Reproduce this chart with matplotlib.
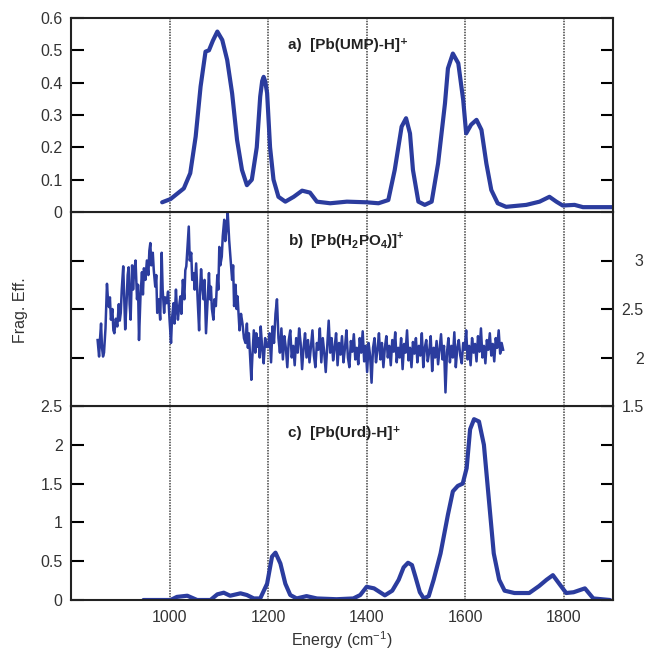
import matplotlib
matplotlib.use("Agg")
import matplotlib.pyplot as plt
import numpy as np

plt.rcParams['font.family'] = ['Liberation Sans', 'DejaVu Sans']
plt.rcParams['mathtext.fontset'] = 'custom'
plt.rcParams['mathtext.rm'] = 'Liberation Sans'
plt.rcParams['mathtext.bf'] = 'Liberation Sans:bold'

# ---- data ----
e_a = [985, 1002, 1029, 1042, 1053, 1063, 1073, 1080, 1088, 1097, 1107, 1117, 1127, 1137, 1147,
       1157, 1167, 1177, 1184, 1188, 1191, 1194, 1198, 1204, 1211, 1221, 1235, 1252, 1269, 1285, 1299, 1326,
       1360, 1400, 1424, 1444, 1457, 1471, 1480, 1488, 1494, 1505, 1518, 1532, 1545, 1559, 1565,
       1575, 1586, 1596, 1602, 1612, 1623, 1633, 1643, 1653, 1666, 1683, 1724, 1751, 1771, 1785,
       1798, 1822, 1839, 1900]
y_a = [0.03, 0.04, 0.073, 0.12, 0.233, 0.388, 0.496, 0.50, 0.53, 0.558, 0.532, 0.47, 0.367, 0.223, 0.13,
       0.083, 0.1, 0.2, 0.357, 0.405, 0.418, 0.405, 0.368, 0.2, 0.1, 0.047, 0.032, 0.047, 0.066, 0.06, 0.032, 0.027,
       0.032, 0.03, 0.027, 0.037, 0.13, 0.264, 0.29, 0.243, 0.13, 0.032, 0.022, 0.032, 0.15, 0.336, 0.444,
       0.49, 0.46, 0.346, 0.243, 0.27, 0.285, 0.254, 0.15, 0.068, 0.027, 0.016, 0.022, 0.032, 0.047, 0.032,
       0.02, 0.022, 0.015, 0.015]

# panel b, low-energy part (read point by point)
e_b_lo = [854, 857, 859, 861, 863, 865, 867, 870, 873, 875, 877, 879, 881, 884, 886, 888, 891, 894, 897, 899,
          901, 903, 906, 908, 910, 913, 915, 917, 919, 921, 924, 926, 928, 931, 934, 936, 938, 941, 944, 946,
          948, 951, 954, 957, 959, 961, 963, 966, 968, 971, 973, 975, 978, 981, 984, 986, 989, 991, 994, 997,
          1000, 1003, 1005, 1008, 1010, 1013, 1015, 1017, 1020, 1022, 1024, 1027, 1030, 1032, 1034, 1036, 1039,
          1041, 1044, 1046, 1049, 1051, 1054, 1057, 1060, 1062, 1064, 1066, 1069, 1071, 1074, 1077, 1080, 1082,
          1084, 1086, 1089, 1091, 1094, 1097, 1099, 1101, 1103, 1106, 1108, 1111, 1113, 1116, 1118, 1121, 1124,
          1127, 1129, 1131, 1134, 1136, 1138, 1140, 1142, 1145, 1148, 1151, 1154, 1157, 1159, 1161, 1163, 1166,
          1168, 1171, 1174, 1176, 1178, 1181, 1183, 1185, 1188, 1191, 1194, 1197]
y_b_lo = [2.18, 2.01, 2.2, 2.35, 2.1, 2.01, 2.05, 2.3, 2.76, 2.6, 2.52, 2.62, 2.39, 2.5, 2.28, 2.25, 2.4, 2.32, 2.55, 2.38,
          2.46, 2.7, 2.94, 2.6, 2.29, 2.6, 2.85, 2.93, 2.55, 2.39, 2.95, 2.7, 2.88, 3.0, 2.6, 2.75, 2.18, 2.63, 2.88, 2.65,
          2.92, 2.8, 3.0, 2.85, 3.1, 3.18, 2.95, 3.08, 2.9, 2.73, 2.85, 2.46, 2.6, 2.39, 3.08, 2.7, 2.46, 2.62, 2.56, 2.68,
          2.39, 2.15, 2.4, 2.56, 2.35, 2.7, 2.5, 2.39, 2.55, 2.63, 2.45, 2.8, 2.6, 2.9, 2.94, 3.1, 3.35,
          3.0, 3.08, 2.8, 2.87, 2.7, 2.97, 2.6, 2.28, 2.7, 2.91, 2.75, 2.6, 2.8, 2.25, 2.55, 2.87, 2.6,
          2.73, 2.5, 2.39, 2.6, 2.53, 2.85, 2.7, 3.14, 2.95, 3.04, 3.25, 3.42, 3.2, 3.35, 3.5, 3.21, 3.0,
          2.8, 2.95, 2.53, 2.75, 2.5, 2.63, 2.45, 2.28, 2.45, 2.35, 2.2, 2.15, 2.35, 2.1, 2.25, 2.05, 1.77,
          2.0, 2.28, 2.05, 2.25, 2.11, 2.2, 2.0, 2.32, 2.1, 1.94, 2.2, 2.11]
# panel b, high-energy part: samples every 3 cm-1 from 1200 cm-1
e_b_hi_start, e_b_hi_step = 1200, 3
y_b_hi = [2.11, 2.25, 1.95, 2.32, 2.15, 2.45, 2.6, 2.2, 2.05, 2.3, 1.98, 2.22, 2.1, 1.9, 2.18, 2.28, 2.0, 2.12, 1.92, 2.2,
          2.05, 2.3, 2.15, 1.88, 2.1, 2.25, 2.0, 2.18, 1.95, 2.12, 2.28, 2.02, 1.9, 2.15, 2.08, 2.3, 1.95, 2.2, 2.05, 1.85,
          2.12, 2.38, 2.05, 2.2, 1.97, 2.1, 2.25, 1.92, 2.15, 2.03, 2.22, 1.95, 2.1, 2.28, 2.0, 1.9, 2.17, 2.06, 2.24, 1.98,
          2.1, 1.93, 2.2, 2.05, 2.27, 1.96, 2.12, 1.85, 2.15, 2.02, 1.74, 2.1, 2.2, 1.95, 2.08, 2.25, 1.98, 2.15, 1.9, 2.1,
          2.22, 2.0, 2.12, 1.92, 2.18, 2.06, 2.26, 1.95, 2.1, 2.0, 2.2, 1.88, 2.14, 2.05, 2.28, 1.97, 2.1, 1.9, 2.16, 2.04,
          2.2, 1.95, 2.12, 2.02, 2.25, 1.9, 2.1, 2.18, 1.96, 2.06, 2.22, 1.86, 2.1, 2.0, 2.17, 1.93, 2.08, 2.24, 1.98, 2.12,
          1.64, 2.05, 2.2, 1.95, 2.12, 2.0, 2.26, 1.9, 2.1, 2.18, 2.02, 1.94, 2.15, 2.08, 2.28, 1.98, 2.12, 1.92, 2.2, 2.05,
          2.14, 1.96, 2.22, 2.06, 2.3, 2.0, 2.12, 1.94, 2.18, 2.08, 2.25, 2.02, 2.14, 1.96, 2.2, 2.1, 2.28, 2.04, 2.15, 2.08]

e_c = [947, 1002, 1015, 1036, 1056, 1083, 1097, 1110, 1123, 1144, 1157, 1171, 1184, 1198, 1208, 1215,
       1225, 1235, 1245, 1258, 1278, 1299, 1339, 1373, 1387, 1400, 1415, 1437, 1452, 1465, 1475, 1484,
       1492, 1499, 1508, 1516, 1526, 1536, 1550, 1565, 1575, 1585, 1595, 1603, 1610, 1618, 1628, 1638,
       1648, 1658, 1669, 1680, 1700, 1730, 1750, 1765, 1778, 1792, 1805, 1820, 1843, 1860, 1894]
y_c = [0, 0, 0.04, 0.055, 0, 0, 0.073, 0.094, 0.055, 0.086, 0.064, 0.02, 0.02, 0.21, 0.56, 0.61,
       0.47, 0.21, 0.064, 0.02, 0.05, 0.02, 0.01, 0.02, 0.064, 0.17, 0.15, 0.06, 0.12, 0.26, 0.42, 0.48,
       0.45, 0.3, 0.1, 0.02, 0.05, 0.26, 0.6, 1.1, 1.4, 1.47, 1.5, 1.7, 2.2, 2.33, 2.3, 2.0,
       1.3, 0.6, 0.26, 0.12, 0.09, 0.09, 0.18, 0.26, 0.32, 0.2, 0.09, 0.1, 0.15, 0.02, 0.0]

grid_x = [1000, 1200, 1400, 1600, 1800]
ticks_a = [0, 0.1, 0.2, 0.3, 0.4, 0.5, 0.6]
tick_a_labels = ['0', '0.1', '0.2', '0.3', '0.4', '0.5', '0.6']
ticks_b = [1.5, 2, 2.5, 3]
tick_b_labels = ['1.5', '2', '2.5', '3']
ticks_c = [0, 0.5, 1, 1.5, 2, 2.5]
tick_c_labels = ['0', '0.5', '1', '1.5', '2', '2.5']

e_b_hi = e_b_hi_start + e_b_hi_step * np.arange(len(y_b_hi))
e_b = list(e_b_lo) + list(e_b_hi)
y_b = list(y_b_lo) + list(y_b_hi)

LINE = '#2b3c9e'
TXT = '#333333'
FS = 11.5
LBL = dict(fontsize=11, fontweight='bold', color='#222222', va='center',
           family=['Liberation Sans', 'DejaVu Sans'])

fig = plt.figure(figsize=(6.46, 6.55), dpi=100)
H = 194 / 655
L, W = 71 / 646, (613 - 71) / 646
bot = 1 - 600 / 655
ax_c = fig.add_axes([L, bot, W, H])
ax_b = fig.add_axes([L, bot + H, W, H])
ax_a = fig.add_axes([L, bot + 2 * H, W, H])

for ax in (ax_a, ax_b, ax_c):
    ax.set_xlim(800, 1900)
    for g in grid_x:
        ax.axvline(g, color='#444444', lw=1.1, ls=(0, (1, 0.8)), zorder=0)
    for s in ax.spines.values():
        s.set_linewidth(1.5)
        s.set_color('#222222')
    ax.tick_params(axis='y', direction='in', length=9, width=1.5, left=True, right=True,
                   labelsize=FS, labelcolor=TXT, pad=6)
    ax.tick_params(axis='x', direction='in', length=0, labelsize=FS, labelcolor=TXT, pad=7)
    ax.set_xticks(grid_x)

ax_a.plot(e_a, y_a, color=LINE, lw=3.0, solid_joinstyle='round', solid_capstyle='round')
ax_a.set_ylim(0, 0.6)
ax_a.set_yticks(ticks_a)
ax_a.set_yticklabels(tick_a_labels)
ax_a.tick_params(axis='x', labelbottom=False)
ax_a.text(1240, 0.515, 'a)  [Pb(UMP)-H]⁺', **LBL)

ax_b.plot(e_b, y_b, color=LINE, lw=1.8, solid_joinstyle='round')
ax_b.set_ylim(1.5, 3.5)
ax_b.set_yticks(ticks_b)
ax_b.set_yticklabels(tick_b_labels)
ax_b.tick_params(axis='y', labelleft=False, labelright=True, pad=22)
for t in ax_b.yaxis.get_major_ticks():
    t.label2.set_horizontalalignment('right')
ax_b.tick_params(axis='x', labelbottom=False)
ax_b.text(1240, 3.21, 'b)  [Pb(H$_{\\mathbf{2}}$PO$_{\\mathbf{4}}$)]$^{\\mathbf{+}}$', **LBL)

ax_c.plot(e_c, y_c, color=LINE, lw=3.0, solid_joinstyle='round', solid_capstyle='round')
ax_c.set_ylim(0, 2.5)
ax_c.set_yticks(ticks_c)
ax_c.set_yticklabels(tick_c_labels)
ax_c.text(1240, 2.15, 'c)  [Pb(Urd)-H]⁺', **LBL)

fig.text(342 / 646, 1 - 640 / 655, 'Energy (cm$^{-1}$)', fontsize=FS, color=TXT,
         ha='center', va='center')
fig.text(20 / 646, 1 - 310 / 655, 'Frag. Eff.', rotation=90, fontsize=FS, color=TXT,
         ha='center', va='center')

fig.savefig('out.png', dpi=100)
